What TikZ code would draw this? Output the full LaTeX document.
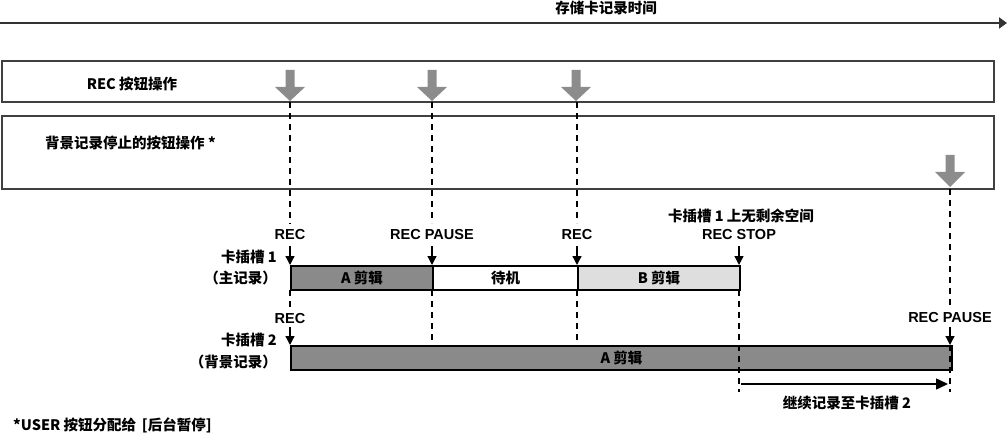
\documentclass[tikz,border=0pt]{standalone}
\usepackage{fontspec}
\setmainfont{Noto Sans CJK SC}
\newfontfamily\lat{Liberation Sans}
\usetikzlibrary{arrows.meta}
\definecolor{garrow}{HTML}{8C8C8C}
\definecolor{darkbar}{HTML}{8A8A8A}
\definecolor{lightbar}{HTML}{DEDEDE}
\definecolor{axis}{HTML}{333333}
\begin{document}
\begin{tikzpicture}[x=1pt,y=-1pt,
  lbl/.style={font=\fontsize{14.5}{16}\selectfont\bfseries, inner sep=0pt},
  rec/.style={font=\lat\fontsize{14.5}{16}\selectfont\bfseries, inner sep=0pt},
  dsh/.style={dash pattern=on 6pt off 5pt, line width=1.5pt},
  panel/.style={draw=black!75, line width=1.3pt},
  barbox/.style={draw=black, line width=2pt},
  tick/.style={-{Triangle[width=9pt,length=9pt]}, line width=1.3pt},
  cont/.style={-{Triangle[width=11pt,length=12pt]}, line width=1.5pt}
]
\useasboundingbox (0,0) rectangle (1008,446);

% time axis
\coordinate (t0) at (0,23);
\coordinate (t1) at (1007,23);
\draw[axis, line width=2.5pt, -{Triangle[width=11pt,length=8pt]}] (t0) -- (t1);
\node[lbl] (ttl) at (606,8) {存储卡记录时间};

% panels
\draw[panel] (2,61) rectangle (994,102);
\draw[panel] (2,116) rectangle (994,189);
\node[lbl] (p1) at (132,84) {REC 按钮操作};
\node[lbl, anchor=west] (p2) at (45,143) {背景记录停止的按钮操作 *};

% dashed guide lines
\draw[dsh] (290,102) -- (290,224);
\draw[dsh] (290,290) -- (290,309);
\draw[dsh] (432,102) -- (432,223);
\draw[dsh] (432,290) -- (432,345);
\draw[dsh] (577,102) -- (577,223);
\draw[dsh] (577,290) -- (577,345);
\draw[dsh] (950,189) -- (950,305);

% gray press arrows
\foreach \x in {290,432,576} {
  \fill[garrow] (\x-4.5,70) -- (\x+4.5,70) -- (\x+4.5,87) -- (\x+15,87) -- (\x,101) -- (\x-15,87) -- (\x-4.5,87) -- cycle;
}
\fill[garrow] (950-4.5,155) -- (950+4.5,155) -- (950+4.5,172) -- (950+15,172) -- (950,187) -- (950-15,172) -- (950-4.5,172) -- cycle;

% slot 1 bar
\node[barbox, fill=darkbar, minimum width=142pt, minimum height=24pt, anchor=north west, inner sep=0pt] (a1) at (290,265) {};
\node[barbox, fill=white, minimum width=145pt, minimum height=24pt, anchor=north west, inner sep=0pt] (w1) at (432,265) {};
\node[barbox, fill=lightbar, minimum width=162pt, minimum height=24pt, anchor=north west, inner sep=0pt] (b1) at (577,265) {};
\node[lbl] at (a1.center) {A 剪辑};
\node[lbl] at (w1.center) {待机};
\node[lbl] at (b1.center) {B 剪辑};

% slot 2 bar
\node[barbox, fill=darkbar, minimum width=661pt, minimum height=24pt, anchor=north west, inner sep=0pt] (a2) at (290,345) {};
\node[lbl] at (a2.center) {A 剪辑};

% dashed lines over slot 2
\draw[dsh] (739,290) -- (739,392);
\draw[dsh] (950,345) -- (950,392);

% slot labels
\node[lbl, anchor=east] (s1a) at (277,257) {卡插槽 1};
\node[lbl, anchor=east] (s1b) at (277,278) {（主记录）};
\node[lbl, anchor=east] (s2a) at (277,340) {卡插槽 2};
\node[lbl, anchor=east] (s2b) at (277,362) {（背景记录）};

% event labels and ticks
\node[rec] (r1) at (290,235) {REC};
\node[rec] (r2) at (432,235) {REC PAUSE};
\node[rec] (r3) at (577,235) {REC};
\node[rec] (r4) at (739,235) {REC STOP};
\node[lbl] (r4n) at (741,216) {卡插槽 1 上无剩余空间};
\node[rec] (r5) at (290,319) {REC};
\node[rec] (r6) at (950,318) {REC PAUSE};
\draw[tick] (290,246) -- (290,265);
\draw[tick] (432,246) -- (432,265);
\draw[tick] (577,246) -- (577,265);
\draw[tick] (739,246) -- (739,265);
\draw[tick] (290,327) -- (290,345);
\draw[tick] (950,327) -- (950,345);

% continue arrow
\coordinate (c0) at (741,384);
\coordinate (c1) at (948,384);
\draw[cont] (c0) -- (c1);
\node[lbl] (cl) at (847,403) {继续记录至卡插槽 2};

% footnote
\node[lbl, anchor=west] (fn) at (13,425) {*USER 按钮分配给 \,[后台暂停]};
\end{tikzpicture}
\end{document}
